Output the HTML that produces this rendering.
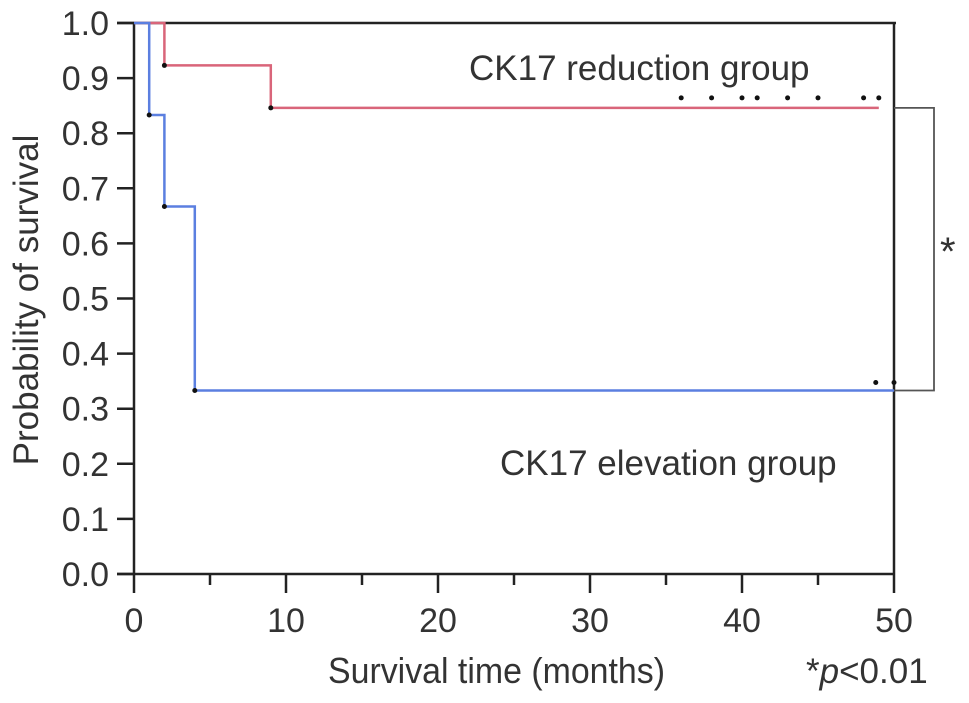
<!DOCTYPE html>
<html><head><meta charset="utf-8"><style>
body{margin:0;background:#fff;}
svg text{font-family:"Liberation Sans",sans-serif;fill:#333;}
</style></head><body>
<svg id="chart" width="969" height="698" viewBox="0 0 969 698">
<g id="axes"></g>
<g id="series"></g>
<text font-size="35" x="469" y="80">CK17 reduction group</text>
<text font-size="35" x="500" y="475">CK17 elevation group</text>
<text font-size="36" x="328" y="683" textLength="337" lengthAdjust="spacingAndGlyphs">Survival time (months)</text>
<text font-size="35" transform="translate(38,300) rotate(-90)" text-anchor="middle">Probability of survival</text>
<text font-size="35" x="806" y="683">*<tspan font-style="italic">p</tspan>&lt;0.01</text>
<text font-size="40" x="940" y="265">*</text>
</svg>
<script>
const redTimes=[0,2,9,49];
const redSurv=[1.0,0.923,0.846,0.846];
const redCensor=[36,38,40,41,43,45,48,49];
const blueTimes=[0,1,2,4,50];
const blueSurv=[1.0,0.833,0.667,0.333,0.333];
const blueCensor=[48.8,50];
const xTicks=[0,10,20,30,40,50];
const yTicks=[0,0.1,0.2,0.3,0.4,0.5,0.6,0.7,0.8,0.9,1.0];
const X=t=>134+t*15.2;
const Y=v=>574-v*551;
const NS='http://www.w3.org/2000/svg';
function mk(tag,attrs,parent){const e=document.createElementNS(NS,tag);for(const k in attrs)e.setAttribute(k,attrs[k]);parent.appendChild(e);return e;}
const ax=document.getElementById('axes');
let e;
e=mk('path',{d:`M${X(0)} ${Y(0)} V${Y(1)} M117 ${Y(1)} H${X(50)+2} M${X(50)} ${Y(1)} V${Y(0)} M117 ${Y(0)} H${X(50)}`,stroke:'#222','stroke-width':2.5,fill:'none'},ax);


yTicks.forEach(v=>{
 e=mk('line',{x1:117,x2:X(0),y1:Y(v),y2:Y(v),stroke:'#222','stroke-width':2.5},ax);
 
 
 e=mk('text',{x:109,y:Y(v)+12,'text-anchor':'end','font-size':34},ax);e.textContent=v.toFixed(1);
 
 
});
for(let t=0;t<=50;t+=5){
 const major=t%10===0;
 e=mk('line',{x1:X(t),x2:X(t),y1:Y(0),y2:Y(0)+(major?19:11),stroke:'#222','stroke-width':2.5},ax);
 
 
}
xTicks.forEach(t=>{
 e=mk('text',{x:X(t),y:632,'text-anchor':'middle','font-size':34},ax);e.textContent=t;
 
 
});
const sg=document.getElementById('series');
function km(times,surv,color,name){
 let d=`M${X(times[0])} ${Y(surv[0])}`;
 for(let i=1;i<times.length;i++){d+=` H${X(times[i])} V${Y(surv[i])}`;}
 e=mk('path',{d:d,stroke:color,'stroke-width':2.5,fill:'none'},sg);
 
 
 for(let i=1;i<times.length-1;i++){
  e=mk('circle',{cx:X(times[i]),cy:Y(surv[i]),r:2.5,fill:'#111'},sg);
  
  
 }
}
km(redTimes,redSurv,'#d9657a','reduction');
km(blueTimes,blueSurv,'#5b7fe0','elevation');
redCensor.forEach(t=>{
 e=mk('circle',{cx:X(t),cy:Y(redSurv[redSurv.length-1])-10,r:2.5,fill:'#111'},sg);
 
 
});
blueCensor.forEach(t=>{
 e=mk('circle',{cx:X(t),cy:Y(blueSurv[blueSurv.length-1])-8,r:2.5,fill:'#111'},sg);
 
 
});
e=mk('path',{d:`M${X(50)} ${Y(redSurv[redSurv.length-1])} H934 V${Y(blueSurv[blueSurv.length-1])} H${X(50)}`,stroke:'#555','stroke-width':1.8,fill:'none'},sg);


</script>
</body></html>
